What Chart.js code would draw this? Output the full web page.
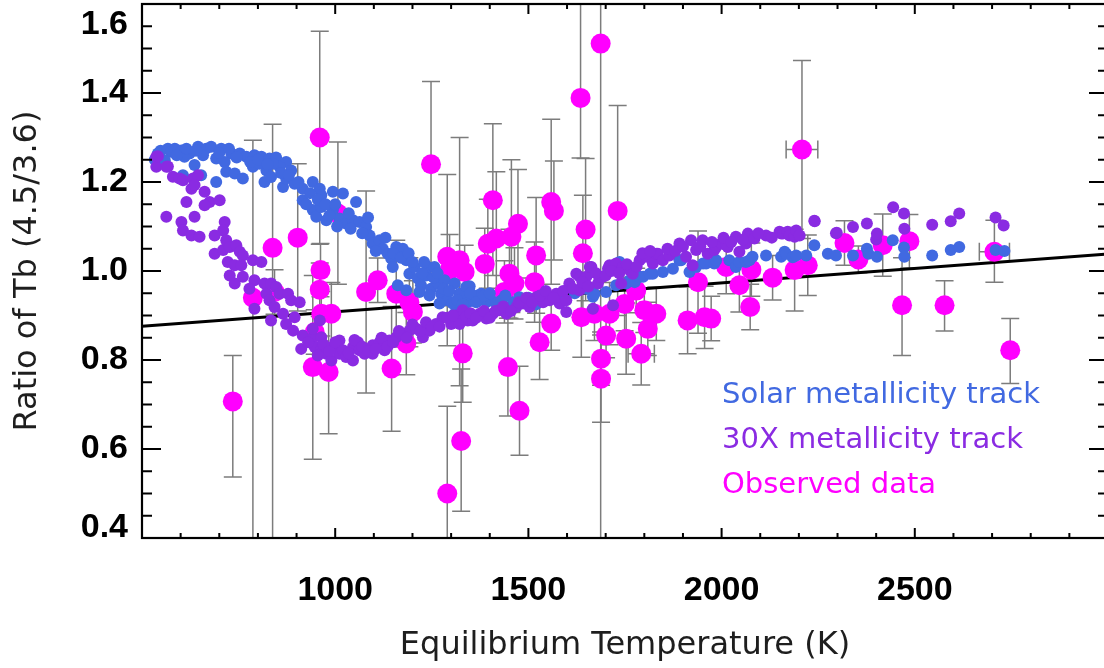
<!DOCTYPE html>
<html>
<head>
<meta charset="utf-8">
<script src="https://cdn.jsdelivr.net/npm/chart.js@4.4.1/dist/chart.umd.min.js"></script>
<style>
html,body{margin:0;padding:0;overflow:hidden;background:#fff}
canvas{display:block}
</style>
</head>
<body>
<canvas id="c" width="1112" height="668" style="width:1112px;height:668px"></canvas>
<script>
// ---- data ----
const seriesNames = ['Solar metallicity track', '30X metallicity track', 'Observed data'];
const xLabel = 'Equilibrium Temperature (K)';
const yLabel = 'Ratio of Tb (4.5/3.6)';
const xTickValues = [1000, 1500, 2000, 2500];
const yTickValues = [0.4, 0.6, 0.8, 1.0, 1.2, 1.4, 1.6];

const solarT = [533,548,541,567,575,585,602,623,645,666,679,705,731,753,770,791,809,830,847,873,692,658,610,559,
  636,606,653,692,714,718,740,761,787,817,822,834,856,865,873,886,895,839,804,916,942,960,916,964,994,1020,1054,
  942,951,964,977,994,1011,1028,1046,1063,1080,1089,1097,1115,1123,1136,1145,1158,1175,1149,1184,1192,1205,1214,
  1222,1235,1240,1248,1257,1266,1274,1283,1291,1304,1309,1322,1339,1162,1184,1218,1244,1270,1309,1326,1343,1335,
  1348,1356,1369,1378,1391,1404,1417,1430,1460,1477,1494,1540,1580,1620,1650,1667,1671,1701,1727,1736,1753,1762,
  1775,1788,1797,1814,1822,1848,1874,1891,1895,1917,1934,1952,1960,1981,1986,2020,2037,2046,2063,2072,2080,2115,
  2154,2163,2167,2184,2193,2219,2240,2275,2296,2340,2376,2380,2402,2443,2472,2473,2545,2593,2615,2709,2732,
  590,615,640,700,725,745,780,800,825,860,880,905,925,935,955,975,985,1000,1005,1035,1040,1070,1085,1105,1130,
  1150,1170,1190,1200,1225,1230,1255,1265,1280,1295,1315,1330,1350,1365,1385,1400,1440,1470,1500,1520];
const solarV = [1.250,1.270,1.264,1.275,1.268,1.275,1.271,1.264,1.279,1.275,1.279,1.275,1.264,1.264,1.257,1.260,1.257,1.253,1.255,1.245,1.253,1.260,1.257,1.249,
  1.238,1.215,1.215,1.200,1.245,1.223,1.219,1.208,1.234,1.200,1.226,1.211,1.234,1.189,1.208,1.226,1.196,1.241,1.241,1.185,1.200,1.185,1.159,1.170,1.178,1.174,1.155,
  1.137,1.122,1.144,1.114,1.137,1.118,1.107,1.114,1.110,1.099,1.080,1.062,1.069,1.050,1.039,1.028,1.054,1.050,1.009,1.024,0.994,1.009,0.983,
  0.968,0.990,1.009,0.960,1.009,0.972,0.949,0.979,0.934,0.927,0.972,0.949,0.964,0.968,0.957,0.953,0.945,0.927,0.904,0.912,0.930,0.941,
  0.966,0.934,0.945,0.949,0.930,0.934,0.927,0.934,0.930,0.941,0.930,0.935,0.945,0.950,0.960,0.942,0.949,0.953,0.968,1.020,0.972,0.979,
  0.975,0.987,0.987,0.994,0.994,0.998,1.005,1.024,1.024,0.998,1.009,1.017,1.017,1.017,1.024,1.024,1.009,1.020,1.020,1.024,1.032,1.035,
  1.032,1.043,1.039,1.031,1.035,1.035,1.058,1.039,1.035,1.035,1.050,1.039,1.032,1.069,1.053,1.032,1.035,1.047,1.054,1.047,1.045,
  1.260,1.275,1.270,1.265,1.275,1.255,1.245,1.250,1.240,1.220,1.215,1.200,1.150,1.175,1.160,1.150,1.125,1.150,1.100,1.130,1.095,1.085,1.120,1.045,1.075,
  1.040,1.030,1.040,1.020,0.995,1.020,0.985,0.995,0.960,0.955,0.935,0.925,0.950,0.930,0.945,0.950,0.945,0.925,0.940,0.925];

const metalT = [537,537,541,563,567,580,597,606,632,645,628,636,662,675,662,701,615,563,636,602,606,628,649,714,710,688,718,688,
  710,727,744,753,761,722,740,757,727,740,761,787,809,791,778,791,817,822,834,847,830,843,834,865,856,878,886,908,895,873,891,
  916,912,942,947,964,977,990,964,960,942,994,1011,1011,1020,1028,1046,1046,1059,1063,1076,1097,1097,1115,1128,1140,1158,1175,
  1192,1210,1227,1244,1261,1278,1300,1313,1330,1343,1322,1339,1356,1374,1391,1408,1425,1443,1469,1486,1503,1520,1538,1555,1572,
  1581,1598,1598,1606,1624,1632,1633,1650,1659,1663,1667,1680,1684,1693,1706,1710,1719,1727,1740,1744,1762,1770,1788,1805,1822,
  1831,1835,1848,1865,1891,1908,1921,1925,1934,1951,1964,1981,1986,1999,2012,2016,2037,2046,2063,2068,2072,2085,2115,2150,2154,
  2159,2171,2176,2189,2193,2202,2240,2241,2296,2298,2340,2376,2400,2402,2444,2472,2473,2545,2593,2615,2709,2730,
  930,955,970,985,1000,1035,1050,1070,1085,1105,1120,1135,1150,1165,1185,1200,1220,1235,1250,1270,1290,1305,1350,1365,1385,
  1400,1415,1435,1455,1475,1495,1510,1530,1545,1565,1590,1615,1640,1655,1675,1700,1715,1735,1755,1780,1795,1815,1860,1880,
  1900,1945,1975,2005,2025,2055,2095,2130];
const metalV = [1.257,1.234,1.258,1.234,1.235,1.212,1.208,1.204,1.208,1.215,1.185,1.193,1.178,1.155,1.148,1.159,1.155,1.122,1.122,1.110,1.091,1.080,1.077,1.110,1.091,1.080,1.069,1.039,
  1.047,1.054,1.058,1.043,1.035,1.020,1.013,1.013,0.990,0.972,0.987,1.024,1.020,0.979,0.960,0.915,0.972,0.949,0.972,0.964,0.934,0.919,0.889,0.904,0.949,0.949,0.934,0.930,0.896,0.881,0.866,
  0.855,0.825,0.851,0.829,0.825,0.814,0.799,0.851,0.889,0.870,0.829,0.844,0.814,0.822,0.807,0.829,0.799,0.840,0.822,0.814,0.833,0.814,0.840,0.822,0.844,0.851,0.859,
  0.866,0.870,0.851,0.866,0.881,0.896,0.881,0.900,0.912,0.889,0.881,0.897,0.889,0.904,0.893,0.904,0.912,0.904,0.919,0.927,0.919,0.941,0.930,0.934,0.949,
  0.927,0.908,0.934,0.972,0.994,0.957,0.987,0.987,1.009,1.009,0.915,0.972,0.987,0.987,1.005,1.013,0.923,1.017,0.972,1.009,1.002,0.994,1.024,1.032,1.017,
  1.039,1.039,1.024,1.035,1.062,1.032,1.069,1.013,1.047,1.069,1.039,1.047,1.054,1.062,1.058,1.054,1.077,1.043,1.062,1.084,1.077,1.073,1.080,1.088,1.084,
  1.084,1.088,1.080,1.077,1.091,1.080,1.113,1.112,1.085,1.086,1.099,1.107,1.071,1.084,1.143,1.129,1.095,1.104,1.112,1.129,1.120,1.102,
  0.840,0.810,0.835,0.820,0.840,0.815,0.845,0.830,0.820,0.825,0.850,0.830,0.840,0.865,0.850,0.880,0.865,0.885,0.875,0.875,0.895,0.900,0.905,0.895,0.910,
  0.895,0.910,0.920,0.910,0.930,0.940,0.930,0.945,0.955,0.940,0.955,0.960,0.975,0.965,0.995,0.990,1.000,0.995,1.015,1.010,1.040,1.045,1.050,1.045,
  1.055,1.055,1.065,1.075,1.065,1.070,1.085,1.075];

const obsT = [735,960,903,838,787,962,960,964,990,942,983,947,1080,1110,1146,1007,1158,1192,1201,1184,1248,1290,1322,1296,1290,
  1330,1326,1335,1387,1395,1408,1417,1456,1473,1451,1464,1438,1447,1477,1520,1516,1529,1559,1566,1559,1648,1641,1731,1637,1671,
  1710,1701,1688,1688,1687,1635,1753,1792,1809,1831,1800,1749,1779,1912,1939,1956,1973,2012,2046,2074,2077,2132,2189,2223,2208,
  2318,2354,2417,2486,2467,2577,2706,2747,843];
const obsV = [0.707,1.300,1.075,1.052,0.940,1.002,0.958,0.904,0.904,0.784,0.773,0.863,0.953,0.979,0.781,1.129,0.949,0.930,0.908,0.837,1.240,1.032,1.024,1.002,0.500,
  0.815,0.618,0.998,1.016,1.061,1.159,1.073,1.077,1.106,0.994,0.972,0.953,0.784,0.686,1.035,0.975,0.840,1.155,1.135,0.882,1.093,1.040,1.135,0.896,0.904,
  0.904,0.855,0.803,0.758,1.511,1.389,0.848,0.814,0.870,0.904,0.912,0.926,0.956,0.889,0.975,0.896,0.893,1.009,0.968,0.919,1.003,0.985,1.002,1.013,1.273,
  1.063,1.026,1.058,1.067,0.923,0.923,1.043,0.822,0.953];
const obsLo = [0.537,1.060,0.910,0.300,0.300,0.942,0.898,0.854,0.834,0.577,0.634,0.813,0.726,0.929,0.640,0.970,0.829,0.830,0.838,0.767,0.980,0.832,0.742,0.922,0.300,
  0.705,0.460,0.938,0.936,0.961,0.990,0.923,0.907,0.984,0.894,0.892,0.883,0.674,0.586,0.905,0.885,0.756,0.970,1.025,0.822,0.933,0.910,0.900,0.806,0.844,
  0.834,0.805,0.743,0.660,0.300,1.254,0.768,0.744,0.810,0.844,0.862,0.866,0.906,0.814,0.860,0.826,0.843,0.949,0.908,0.868,0.943,0.935,0.910,0.945,1.073,
  1.013,0.996,0.988,1.007,0.810,0.865,0.975,0.747,0.903];
const obsHi = [0.810,1.539,1.241,1.330,1.294,1.062,1.018,0.954,0.974,0.990,0.912,0.913,1.180,1.029,0.920,1.290,1.069,1.030,0.978,0.907,1.426,1.217,1.300,1.082,0.696,
  0.925,0.780,1.058,1.096,1.161,1.331,1.223,1.250,1.228,1.094,1.052,1.023,0.894,0.786,1.165,1.065,0.925,1.341,1.247,0.942,1.253,1.170,1.372,0.986,0.964,
  0.974,0.905,0.863,0.856,1.750,1.700,0.928,0.884,0.930,0.964,0.962,0.986,1.006,0.964,1.090,0.966,0.943,1.069,1.028,0.970,1.063,1.035,1.094,1.081,1.473,
  1.113,1.056,1.128,1.127,1.030,0.978,1.114,0.893,1.003];
const obsXErr = [0,0,0,0,0,0,0,0,0,0,0,0,0,0,0,0,0,0,0,0,0,0,0,0,0,
  0,0,0,0,0,0,0,0,0,0,0,0,0,0,0,0,0,0,0,0,0,0,0,0,0,
  0,0,0,0,0,0,0,34,0,0,0,0,0,0,0,0,0,0,0,0,0,0,0,0,41,
  0,0,0,0,0,0,39,0,0];

const fitT = [500, 3000];
const fitV = [0.876, 1.038];

// ---- helpers / plugins ----
const toXY = (xs, ys) => xs.map((x, i) => ({x: x, y: ys[i]}));

const errorBars = {
  id: 'errorBars',
  beforeDatasetsDraw(chart) {
    const {ctx, chartArea: a, scales: {x, y}} = chart;
    ctx.save();
    ctx.beginPath();
    ctx.rect(a.left, a.top, a.right - a.left, a.bottom - a.top);
    ctx.clip();
    ctx.strokeStyle = '#7c7c7c';
    ctx.lineWidth = 1.5;
    const cap = 9;
    obsT.forEach((t, i) => {
      const px = x.getPixelForValue(t);
      const py = y.getPixelForValue(obsV[i]);
      const lo = y.getPixelForValue(obsLo[i]);
      const hi = y.getPixelForValue(obsHi[i]);
      ctx.beginPath();
      ctx.moveTo(px, lo); ctx.lineTo(px, hi);
      ctx.moveTo(px - cap, lo); ctx.lineTo(px + cap, lo);
      ctx.moveTo(px - cap, hi); ctx.lineTo(px + cap, hi);
      if (obsXErr[i] > 0) {
        const l = x.getPixelForValue(t - obsXErr[i]);
        const r = x.getPixelForValue(t + obsXErr[i]);
        ctx.moveTo(l, py); ctx.lineTo(r, py);
        ctx.moveTo(l, py - cap); ctx.lineTo(l, py + cap);
        ctx.moveTo(r, py - cap); ctx.lineTo(r, py + cap);
      }
      ctx.stroke();
    });
    ctx.restore();
  }
};

const frameTicks = {
  id: 'frameTicks',
  afterDatasetsDraw(chart) {
    const {ctx, chartArea: a, scales: {x, y}} = chart;
    ctx.save();
    ctx.strokeStyle = '#000';
    ctx.lineWidth = 2;
    ctx.beginPath();
    for (let v = x.min; v <= x.max; v += 100) {
      const px = x.getPixelForValue(v);
      const len = (v % 500 === 0) ? 10 : 5;
      ctx.moveTo(px, a.bottom); ctx.lineTo(px, a.bottom - len);
      ctx.moveTo(px, a.top); ctx.lineTo(px, a.top + len);
    }
    for (let k = 8; k <= 32; k++) {
      const py = y.getPixelForValue(k * 0.05);
      const len = (k % 4 === 0) ? 19 : 10;
      ctx.moveTo(a.left, py); ctx.lineTo(a.left + len, py);
      ctx.moveTo(a.right, py); ctx.lineTo(a.right - len, py);
    }
    ctx.stroke();
    ctx.lineWidth = 2.2;
    ctx.strokeRect(a.left, a.top, a.right - a.left, a.bottom - a.top);
    ctx.restore();
  }
};

const legendText = {
  id: 'legendText',
  afterDatasetsDraw(chart) {
    const ctx = chart.ctx;
    ctx.save();
    ctx.font = '29px "DejaVu Sans", sans-serif';
    ctx.textAlign = 'left';
    ctx.textBaseline = 'alphabetic';
    chart.data.datasets.slice(0, 3).forEach((ds, i) => {
      ctx.fillStyle = ds.backgroundColor;
      ctx.fillText(ds.label, 722, 403 + 45 * i);
    });
    ctx.restore();
  }
};

const edgeLabels = {
  id: 'edgeLabels',
  beforeDraw(chart) {
    try {
      const items = chart.scales.y.getLabelItems();
      items.forEach(it => {
        if (it._moved) return;
        if (it.label === '1.6') it.options.translation[1] += 21;
        if (it.label === '0.4') it.options.translation[1] -= 10;
        it._moved = true;
      });
    } catch (e) {}
  }
};

const noPad = s => { s.paddingTop = 0; s.paddingBottom = 0; s.paddingLeft = 0; s.paddingRight = 0; };
const tickFont = {family: '"Liberation Sans", Arial, sans-serif', size: 34, weight: 'bold'};
const titleFont = {family: '"DejaVu Sans", sans-serif', size: 32};

new Chart(document.getElementById('c'), {
  type: 'scatter',
  data: {
    datasets: [
      {label: seriesNames[0], data: toXY(solarT, solarV), backgroundColor: '#4169E1', pointRadius: 6, borderWidth: 0, order: 1},
      {label: seriesNames[1], data: toXY(metalT, metalV), backgroundColor: '#8A2BE2', pointRadius: 6, borderWidth: 0, order: 0},
      {label: seriesNames[2], data: toXY(obsT, obsV), backgroundColor: '#FF00FF', pointRadius: 10, borderWidth: 0, order: 2},
      {label: 'fit', data: toXY(fitT, fitV), showLine: true, borderColor: '#000', borderWidth: 3, pointRadius: 0, order: 3, fill: false}
    ]
  },
  options: {
    responsive: false,
    animation: false,
    events: [],
    layout: {autoPadding: false, padding: {top: 4, right: 4, left: 0, bottom: 0}},
    plugins: {legend: {display: false}, tooltip: {enabled: false}},
    scales: {
      x: {
        type: 'linear', position: 'bottom', min: 500, max: 3000,
        grid: {display: false, drawTicks: false},
        border: {display: false},
        afterBuildTicks: s => { s.ticks = xTickValues.map(v => ({value: v})); },
        afterFit: s => { s.height = 130; noPad(s); },
        ticks: {callback: v => String(v), font: tickFont, color: '#000', padding: 32, maxRotation: 0, autoSkip: false},
        title: {display: true, text: xLabel, font: titleFont, color: '#1e1e1e', padding: {top: 0, bottom: 3}}
      },
      y: {
        type: 'linear', position: 'left', min: 0.4, max: 1.6,
        grid: {display: false, drawTicks: false},
        border: {display: false},
        afterBuildTicks: s => { s.ticks = yTickValues.map(v => ({value: v})); },
        afterFit: s => { s.width = 142; noPad(s); },
        ticks: {callback: v => Number(v).toFixed(1), font: tickFont, color: '#000', padding: 14, autoSkip: false},
        title: {display: true, text: yLabel, font: titleFont, color: '#1e1e1e', padding: {top: 8, bottom: 0}}
      }
    }
  },
  plugins: [errorBars, frameTicks, legendText, edgeLabels]
});
</script>
</body>
</html>
